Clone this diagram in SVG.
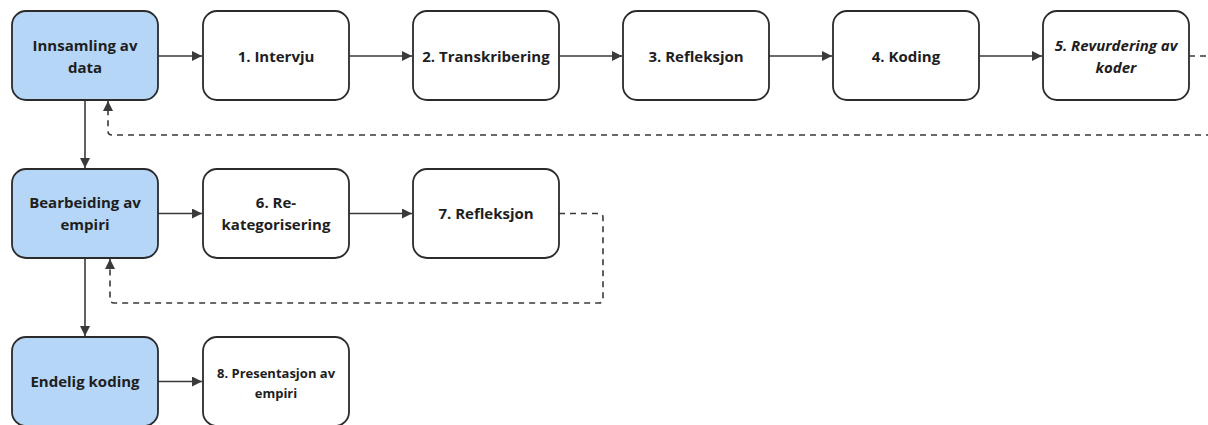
<svg xmlns="http://www.w3.org/2000/svg" width="1208" height="425" viewBox="0 0 1208 425">
<style>
.box{fill:#ffffff;stroke:#2b2b2b;stroke-width:1.8}
.main{fill:#b5d6f6;stroke:#2b2b2b;stroke-width:1.8}
.t{font-family:"Open Sans","Noto Sans",sans-serif;font-weight:bold;font-size:15px;fill:#1e1e1e;text-anchor:middle}
.s{font-size:13px}
.i{font-style:italic}
.c{fill:none;stroke:#3a3a3a;stroke-width:1.6}
.d{stroke-dasharray:6 5}
</style>
<defs>
<marker id="ah" viewBox="0 0 10 10" refX="10" refY="5" markerWidth="10" markerHeight="10" markerUnits="userSpaceOnUse" orient="auto">
<path d="M0,0 L10,5 L0,10 z" fill="#3a3a3a"/>
</marker>
</defs>
<g id="connectors">
<path class="c" d="M158,56 H202" marker-end="url(#ah)"/>
<path class="c" d="M349,56 H412" marker-end="url(#ah)"/>
<path class="c" d="M559,56 H622" marker-end="url(#ah)"/>
<path class="c" d="M769,56 H832" marker-end="url(#ah)"/>
<path class="c" d="M979,56 H1042" marker-end="url(#ah)"/>
<path class="c d" d="M1189,56 H1212 M1212,135 H112 Q108,135 108,131 V101" marker-end="url(#ah)"/>
<path class="c" d="M85,100 V168" marker-end="url(#ah)"/>
<path class="c" d="M158,213.5 H202" marker-end="url(#ah)"/>
<path class="c" d="M349,213.5 H412" marker-end="url(#ah)"/>
<path class="c d" d="M559,213.5 H599 Q603,213.5 603,217.5 V299 Q603,303 599,303 H114 Q110,303 110,299 V259" marker-end="url(#ah)"/>
<path class="c" d="M85,258 V336" marker-end="url(#ah)"/>
<path class="c" d="M158,381.5 H202" marker-end="url(#ah)"/>
</g>
<g id="n-innsamling"><rect class="main" x="12" y="11" width="146" height="89" rx="14"/><text class="t" x="85" y="50.5">Innsamling av</text><text class="t" x="85" y="72.5">data</text></g>
<g id="n-1"><rect class="box" x="203" y="11" width="146" height="89" rx="14"/><text class="t" x="276" y="61.5">1. Intervju</text></g>
<g id="n-2"><rect class="box" x="413" y="11" width="146" height="89" rx="14"/><text class="t" x="486" y="61.5">2. Transkribering</text></g>
<g id="n-3"><rect class="box" x="623" y="11" width="146" height="89" rx="14"/><text class="t" x="696" y="61.5">3. Refleksjon</text></g>
<g id="n-4"><rect class="box" x="833" y="11" width="146" height="89" rx="14"/><text class="t" x="906" y="61.5">4. Koding</text></g>
<g id="n-5"><rect class="box" x="1043" y="11" width="146" height="89" rx="14"/><text class="t i" x="1116" y="50.5">5. Revurdering av</text><text class="t i" x="1116" y="72.5">koder</text></g>
<g id="n-bearbeiding"><rect class="main" x="12" y="169" width="146" height="89" rx="14"/><text class="t" x="85" y="208">Bearbeiding av</text><text class="t" x="85" y="230">empiri</text></g>
<g id="n-6"><rect class="box" x="203" y="169" width="146" height="89" rx="14"/><text class="t" x="276" y="208">6. Re-</text><text class="t" x="276" y="230">kategorisering</text></g>
<g id="n-7"><rect class="box" x="413" y="169" width="146" height="89" rx="14"/><text class="t" x="486" y="219">7. Refleksjon</text></g>
<g id="n-endelig"><rect class="main" x="12" y="337" width="146" height="89" rx="14"/><text class="t" x="85" y="387">Endelig koding</text></g>
<g id="n-8"><rect class="box" x="203" y="337" width="146" height="89" rx="14"/><text class="t s" x="276" y="377.5">8. Presentasjon av</text><text class="t s" x="276" y="397.5">empiri</text></g>
</svg>
